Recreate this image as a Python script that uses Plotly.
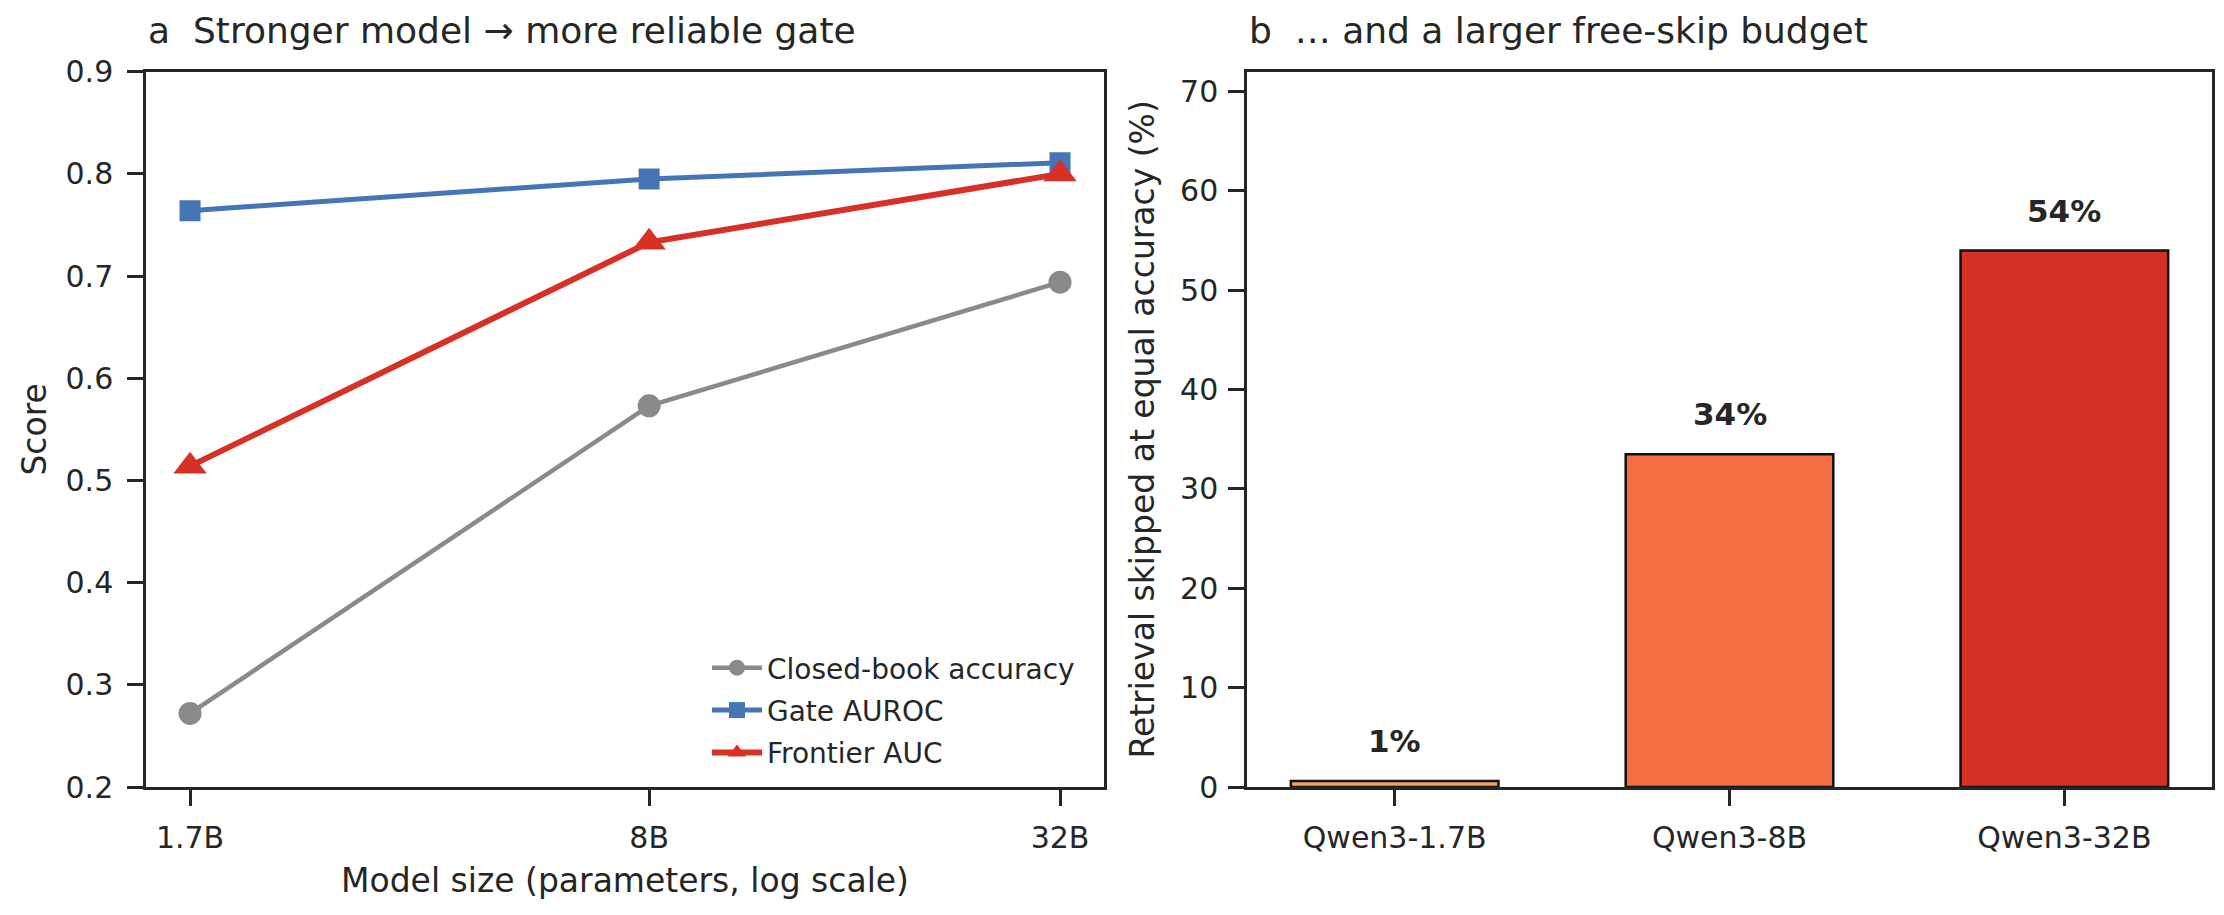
import plotly.graph_objects as go

# ---------------- data ----------------
model_sizes = [1.7, 8, 32]
size_labels = ["1.7B", "8B", "32B"]
closed_book_acc = [0.272, 0.573, 0.694]
gate_auroc = [0.764, 0.795, 0.811]
frontier_auc = [0.514, 0.733, 0.800]

bar_models = ["Qwen3-1.7B", "Qwen3-8B", "Qwen3-32B"]
skipped_pct = [0.6, 33.5, 54.0]
skipped_labels = ["1%", "34%", "54%"]

# ---------------- style ----------------
FONT = "DejaVu Sans"
TXT = "#262626"
W, H = 2224, 915

fig = go.Figure()

line_specs = [
    ("Closed-book accuracy", closed_book_acc, "#8a8a8a", "circle", 4.5, 23),
    ("Gate AUROC", gate_auroc, "#4575b4", "square", 5, 21),
    ("Frontier AUC", frontier_auc, "#d73027", "triangle-up", 6, 29),
]
for i, (name, vals, col, sym, lw, ms) in enumerate(line_specs):
    fig.add_trace(go.Scatter(
        x=model_sizes, y=vals, name=name, mode="lines+markers",
        line=dict(color=col, width=lw),
        marker=dict(symbol=sym, size=ms, color=col, line=dict(width=0)),
        xaxis="x", yaxis="y", legendgroup=f"g{i}", showlegend=True,
    ))

bar_colors = ["#f6a35a", "#f46d43", "#d73027"]
fig.add_trace(go.Bar(
    x=bar_models, y=skipped_pct, width=0.62,
    marker=dict(color=bar_colors, line=dict(color="#111111", width=2.5)),
    xaxis="x2", yaxis="y2", showlegend=False,
))

for m, v, lab in zip(bar_models, skipped_pct, skipped_labels):
    fig.add_annotation(
        x=m, y=v + 2.0, xref="x2", yref="y2", text=f"<b>{lab}</b>",
        showarrow=False, yanchor="bottom", xanchor="center",
        font=dict(family=FONT, size=31, color=TXT),
    )

# panel titles
fig.add_annotation(
    x=146 / W, y=1 - 31 / H, xref="paper", yref="paper",
    text="a\u00a0\u00a0Stronger model \u2192 more reliable gate",
    showarrow=False, xanchor="left", yanchor="middle",
    font=dict(family=FONT, size=36, color=TXT),
)
fig.add_annotation(
    x=1247 / W, y=1 - 31 / H, xref="paper", yref="paper",
    text="b\u00a0\u00a0\u2026 and a larger free-skip budget",
    showarrow=False, xanchor="left", yanchor="middle",
    font=dict(family=FONT, size=36, color=TXT),
)

ydom = [(H - 787) / H, (H - 71.7) / H]
common_axis = dict(
    showline=True, linecolor=TXT, linewidth=2.5, mirror=True,
    ticks="outside", ticklen=16, tickwidth=2.5, tickcolor=TXT,
    showgrid=False, zeroline=False, automargin=False,
    tickfont=dict(family=FONT, size=30, color=TXT),
)
TITLE_SIZE = 33

fig.update_layout(
    width=W, height=H,
    margin=dict(l=0, r=0, t=0, b=0, autoexpand=False),
    paper_bgcolor="white", plot_bgcolor="white",
    font=dict(family=FONT, color=TXT),
    xaxis=dict(
        domain=[146 / W, 1104 / W], anchor="y", type="log",
        range=[0.1659, 1.5696], tickvals=model_sizes, ticktext=size_labels,
        title=dict(text="Model size (parameters, log scale)", standoff=16,
                   font=dict(family=FONT, size=TITLE_SIZE, color=TXT)),
        ticklabelstandoff=6,
        **common_axis,
    ),
    yaxis=dict(
        domain=ydom, anchor="x", range=[0.2, 0.9], dtick=0.1, tick0=0.2,
        tickformat=".1f",
        title=dict(text="Score", standoff=9,
                   font=dict(family=FONT, size=TITLE_SIZE, color=TXT)),
        ticklabelstandoff=8,
        **common_axis,
    ),
    xaxis2=dict(
        domain=[1247 / W, 2212 / W], anchor="y2", type="category",
        range=[-0.441, 2.441],
        ticklabelstandoff=6,
        **common_axis,
    ),
    yaxis2=dict(
        domain=ydom, anchor="x2", range=[0, 72], dtick=10, tick0=0,
        title=dict(text="Retrieval skipped at equal accuracy (%)", standoff=16,
                   font=dict(family=FONT, size=TITLE_SIZE, color=TXT)),
        ticklabelstandoff=4,
        **common_axis,
    ),
    legend=dict(
        x=1080 / W, y=(H - 778) / H, xanchor="right", yanchor="bottom",
        bgcolor="rgba(0,0,0,0)", borderwidth=0,
        font=dict(family=FONT, size=28, color=TXT),
        tracegroupgap=3, itemwidth=50,
    ),
)

fig.write_html("out.html")
